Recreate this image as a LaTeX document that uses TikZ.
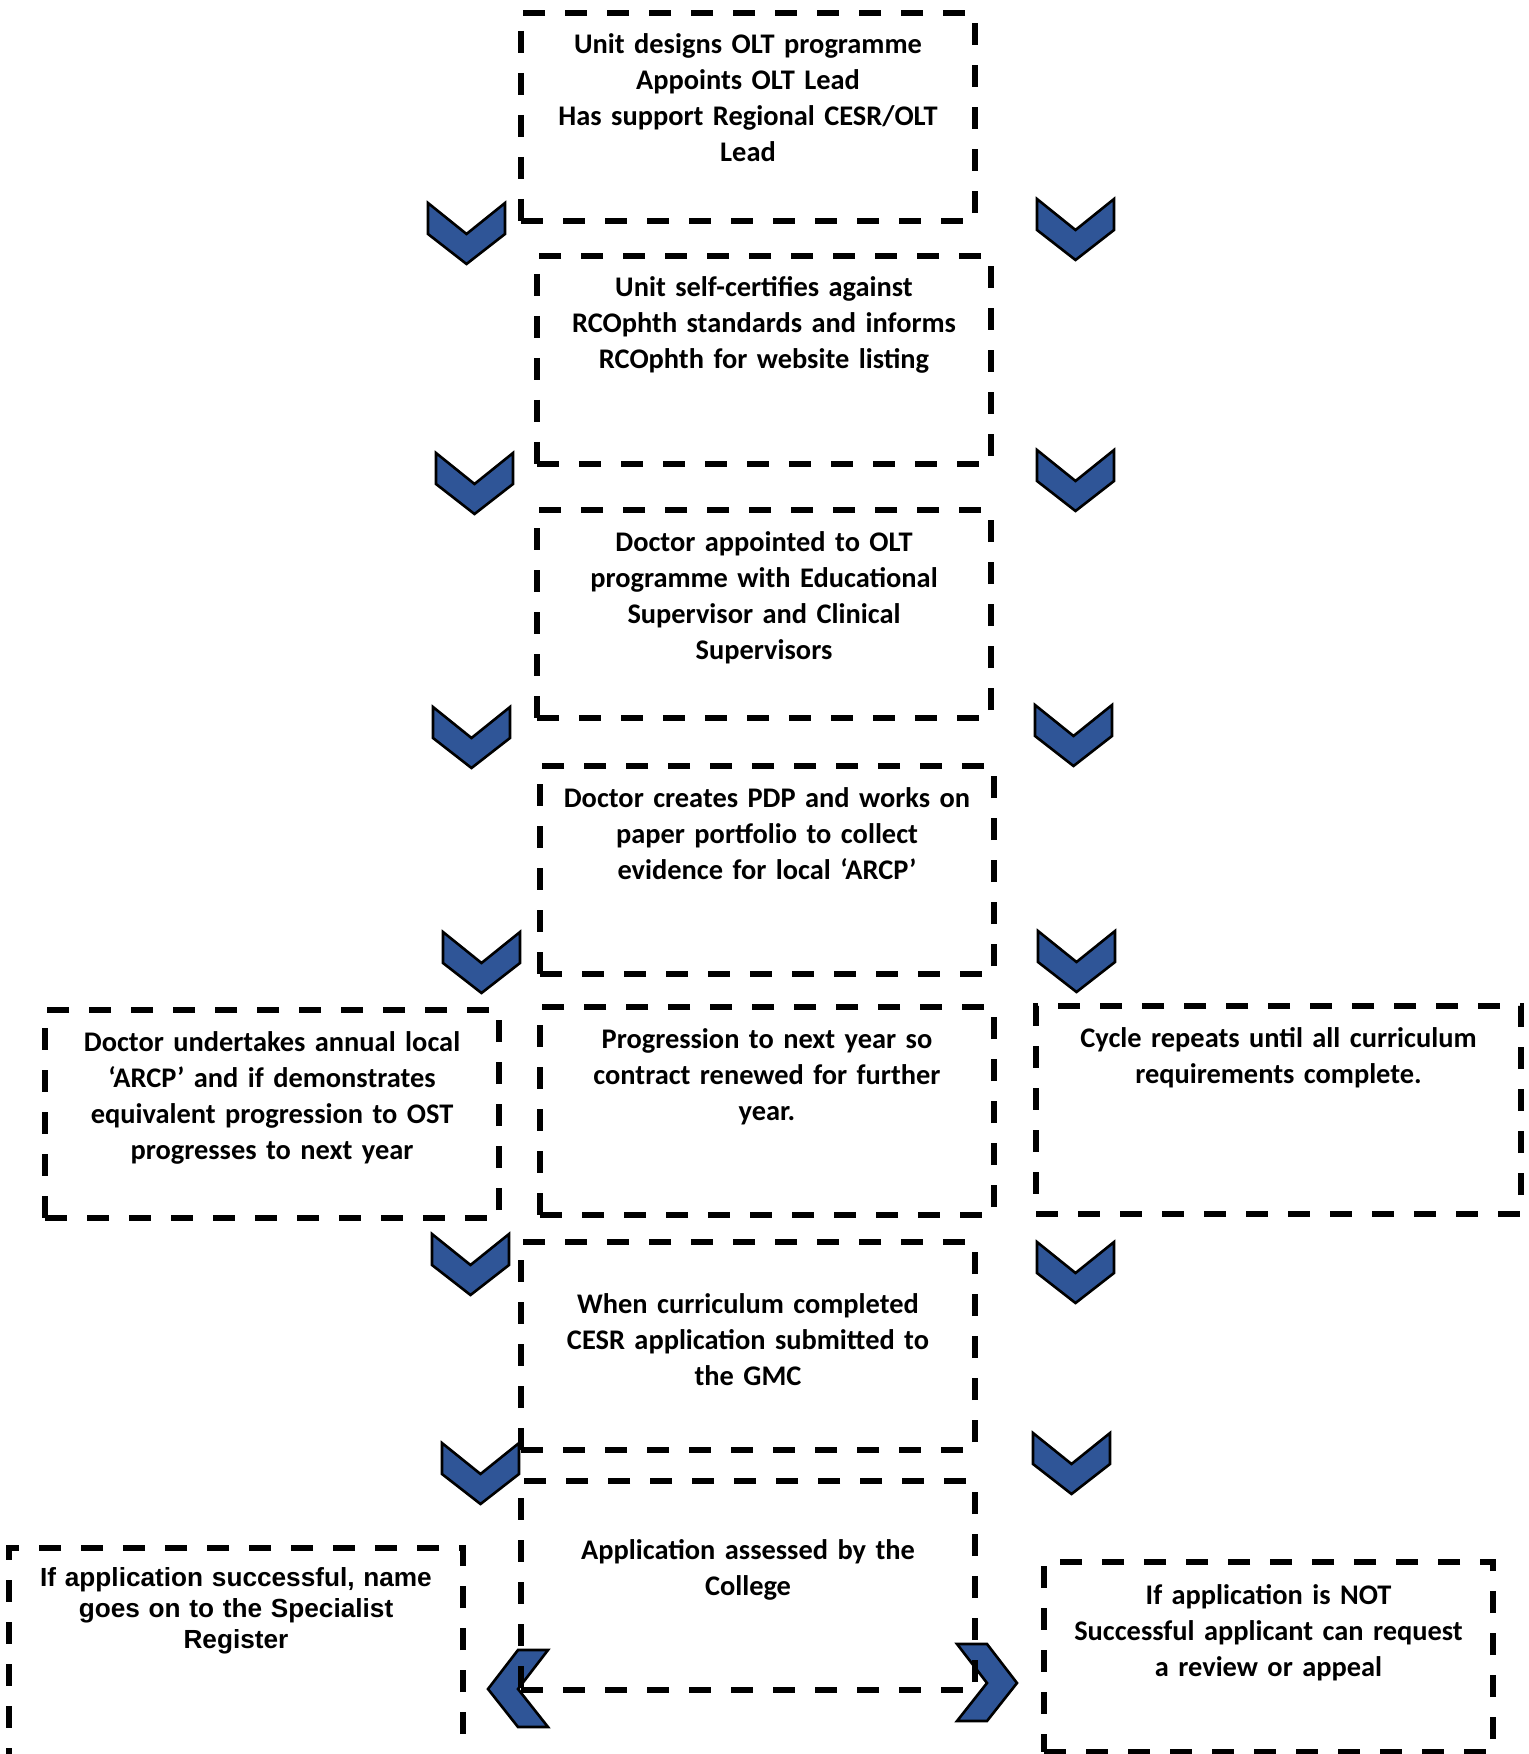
\documentclass[tikz,border=0pt]{standalone}
\usepackage{fontspec}
\setmainfont{Carlito}
\newfontfamily\arialfont{Liberation Sans}
\usetikzlibrary{positioning}
\definecolor{cblue}{HTML}{2F5597}
\tikzset{
  every picture/.style={x=0.5pt, y=-0.5pt},
  box/.style={draw, line width=3pt, dash pattern=on 11pt off 10pt, anchor=north west, outer sep=0pt,
    align=center, inner xsep=5pt, inner ysep=10pt, text width=217pt,
    text height=10.5pt, text depth=73.5pt, font=\bfseries\fontsize{14.2}{18}\selectfont},
  chev/.style={draw=black, line width=1.3pt, fill=cblue, line join=miter},
  chevdown/.pic={\draw[chev] (0,0) -- (38.5,31) -- (77,0) -- (77,31) -- (38.5,61) -- (0,31) -- cycle;},
  chevleft/.pic={\draw[chev] (0,0) -- (-30,0) -- (-60,39) -- (-30,77) -- (0,77) -- (-30,39) -- cycle;},
  chevright/.pic={\draw[chev] (0,0) -- (30,0) -- (60,39) -- (30,77) -- (0,77) -- (30,39) -- cycle;},
}

\begin{document}
\begin{tikzpicture}
  \useasboundingbox (0,0) rectangle (1528,1754);
  % chevrons, left column
  \pic at (428,203) {chevdown};
  \pic at (436,453) {chevdown};
  \pic at (433,707) {chevdown};
  \pic at (443,932) {chevdown};
  \pic at (432,1234) {chevdown};
  \pic at (442,1443) {chevdown};
  % chevrons, right column
  \pic at (1037,199) {chevdown};
  \pic at (1037,450) {chevdown};
  \pic at (1035,705) {chevdown};
  \pic at (1038,931) {chevdown};
  \pic at (1037,1242) {chevdown};
  \pic at (1033,1433) {chevdown};
  \pic at (548,1650) {chevleft};
  \pic at (957,1644) {chevright};
  % boxes
  \node[box] (unit) at (521,13) {Unit designs OLT programme\\ Appoints OLT Lead\\ Has support Regional CESR/OLT\\ Lead};
  \node[box] (certify) at (537,256) {Unit self-certifies against\\ RCOphth standards and informs\\ RCOphth for website listing};
  \node[box] (appoint) at (537,510) {Doctor appointed to OLT\\ programme with Educational\\ Supervisor and Clinical\\ Supervisors};
  \node[box] (portfolio) at (540,766) {Doctor creates PDP and works on\\ paper portfolio to collect\\ evidence for local ‘ARCP’};
  \node[box] (arcp) at (45,1010) {Doctor undertakes annual local\\ ‘ARCP’ and if demonstrates\\ equivalent progression to OST\\ progresses to next year};
  \node[box] (progress) at (540,1007) {Progression to next year so\\ contract renewed for further\\ year.};
  \node[box, text width=232.5pt] (cycle) at (1036,1006) {Cycle repeats until all curriculum\\ requirements complete.};
  \node[box, text height=25.5pt, text depth=58.5pt] (cesr) at (521,1242) {When curriculum completed\\ CESR application submitted to\\ the GMC};
  \node[box, text height=29pt, text depth=55.5pt] (assess) at (521,1481) {Application assessed by the\\ College};
  \node[box, text height=9pt, text depth=110pt, font=\arialfont\bfseries\fontsize{13.1}{15.5}\selectfont] (success) at (9,1548) {If application successful, name\\ goes on to the Specialist\\ Register};
  \node[box, text width=214.5pt, text height=11pt, text depth=64pt] (appeal) at (1044,1562) {If application is NOT\\ Successful applicant can request\\ a review or appeal};
\end{tikzpicture}
\end{document}
